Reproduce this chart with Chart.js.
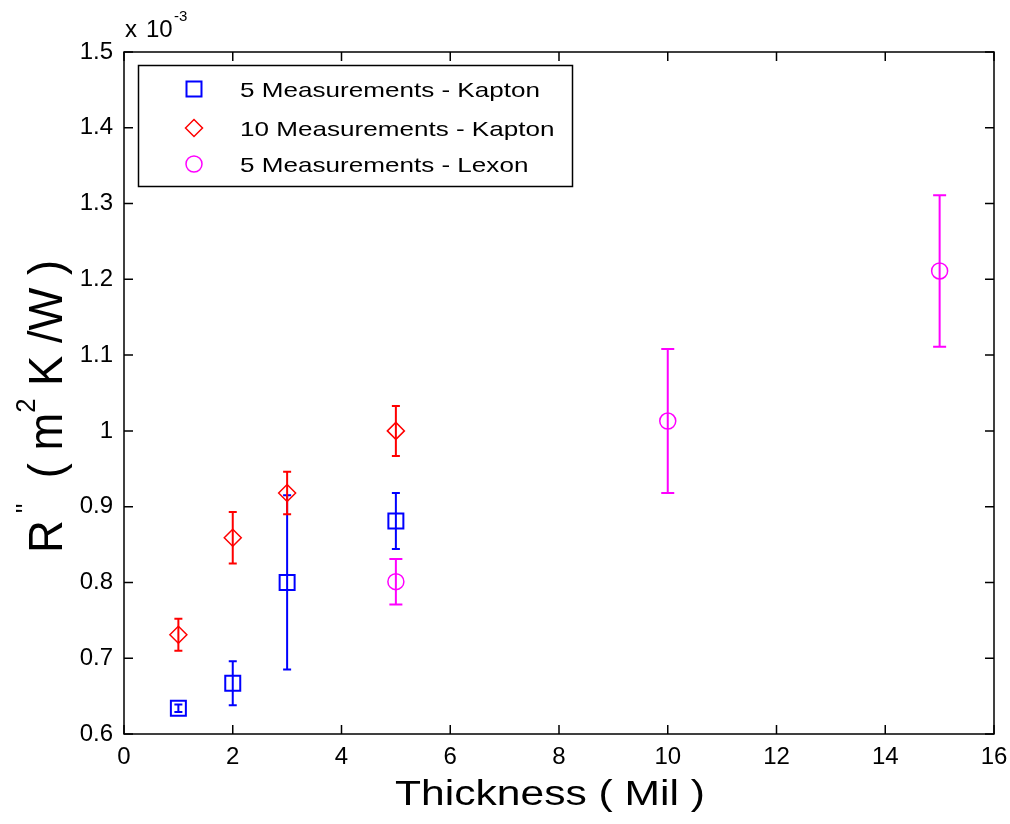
<!DOCTYPE html>
<html>
<head>
<meta charset="utf-8">
<title>Thermal resistance vs thickness</title>
<script src="https://cdn.jsdelivr.net/npm/chart.js@4.4.0/dist/chart.umd.min.js"></script>
<style>
  html, body { margin: 0; padding: 0; background: #fff; }
  canvas { display: block; }
</style>
</head>
<body>
<canvas id="resistance-chart" width="1010" height="824"></canvas>
<script>
const FONT = '"Liberation Sans", Arial, Helvetica, sans-serif';

// thickness in mil, R'' in units of 1e-3 m^2 K/W, errors are half-lengths
const kapton5X = [1, 2, 3, 5];
const kapton5Y = [0.634, 0.667, 0.800, 0.881];
const kapton5Err = [0.005, 0.029, 0.115, 0.037];

const kapton10X = [1, 2, 3, 5];
const kapton10Y = [0.731, 0.859, 0.918, 1.000];
const kapton10Err = [0.021, 0.034, 0.028, 0.033];

const lexon5X = [5, 10, 15];
const lexon5Y = [0.801, 1.013, 1.211];
const lexon5Err = [0.030, 0.095, 0.100];

const seriesNames = ['5 Measurements - Kapton', '10 Measurements - Kapton', '5 Measurements - Lexon'];
const xTickValues = [0, 2, 4, 6, 8, 10, 12, 14, 16];
const yTickValues = [0.6, 0.7, 0.8, 0.9, 1.0, 1.1, 1.2, 1.3, 1.4, 1.5];

function toPoints(xs, ys) {
  return xs.map((x, i) => ({ x: x, y: ys[i] }));
}

// vertical error bars with caps, drawn right after each dataset
const errorBars = {
  id: 'errorBars',
  afterDatasetDraw(chart, args) {
    const ds = chart.data.datasets[args.index];
    const xs = chart.scales.x, ys = chart.scales.y;
    const ctx = chart.ctx;
    const cap = ds.capHalfWidth;
    ctx.save();
    ctx.strokeStyle = ds.pointBorderColor;
    ctx.lineWidth = ds.errorLineWidth;
    ds.data.forEach((p, i) => {
      const e = ds.errors[i];
      const px = xs.getPixelForValue(p.x);
      const top = ys.getPixelForValue(p.y + e);
      const bot = ys.getPixelForValue(p.y - e);
      ctx.beginPath();
      ctx.moveTo(px, top); ctx.lineTo(px, bot);
      ctx.moveTo(px - cap, top); ctx.lineTo(px + cap, top);
      ctx.moveTo(px - cap, bot); ctx.lineTo(px + cap, bot);
      ctx.stroke();
    });
    ctx.restore();
  }
};

// closed axes box with inward ticks on all four sides
const axesBox = {
  id: 'axesBox',
  afterDatasetsDraw(chart) {
    const { ctx, chartArea: a } = chart;
    const xs = chart.scales.x, ys = chart.scales.y;
    const len = 9;
    ctx.save();
    ctx.strokeStyle = '#000';
    ctx.lineWidth = 1.5;
    ctx.strokeRect(a.left, a.top, a.right - a.left, a.bottom - a.top);
    ctx.beginPath();
    xs.ticks.forEach(t => {
      const px = xs.getPixelForValue(t.value);
      ctx.moveTo(px, a.bottom); ctx.lineTo(px, a.bottom - len);
      ctx.moveTo(px, a.top); ctx.lineTo(px, a.top + len);
    });
    ys.ticks.forEach(t => {
      const py = ys.getPixelForValue(t.value);
      ctx.moveTo(a.left, py); ctx.lineTo(a.left + len, py);
      ctx.moveTo(a.right, py); ctx.lineTo(a.right - len, py);
    });
    ctx.stroke();
    ctx.restore();
  }
};

// draws text squeezed/stretched to a given width
function fitText(ctx, text, x, y, width) {
  const w = ctx.measureText(text).width;
  ctx.save();
  ctx.translate(x, y);
  ctx.scale(width / w, 1);
  ctx.fillText(text, 0, 0);
  ctx.restore();
}

const labels = {
  id: 'labels',
  afterDraw(chart) {
    const ctx = chart.ctx;
    ctx.save();
    ctx.fillStyle = '#000';
    ctx.textBaseline = 'alphabetic';
    ctx.textAlign = 'left';

    // x axis title
    ctx.font = '35px ' + FONT;
    fitText(ctx, 'Thickness ( Mil )', 395, 805, 310);

    // y axis title, rotated, with superscripts
    const parts = [
      { t: 'R', sup: false },
      { t: " ''", sup: true },
      { t: '  ( m', sup: false },
      { t: '2', sup: true },
      { t: ' K /W )', sup: false }
    ];
    const mainFont = '48px ' + FONT, supFont = '27px ' + FONT;
    let total = 0;
    parts.forEach(p => {
      ctx.font = p.sup ? supFont : mainFont;
      p.w = ctx.measureText(p.t).width;
      total += p.w;
    });
    ctx.save();
    ctx.translate(62, 553);
    ctx.rotate(-Math.PI / 2);
    ctx.scale(293 / total, 1);
    let cx = 0;
    parts.forEach(p => {
      ctx.font = p.sup ? supFont : mainFont;
      ctx.fillText(p.t, cx, p.sup ? -27 : 0);
      cx += p.w;
    });
    ctx.restore();

    // exponent label above the y axis
    ctx.font = '24px ' + FONT;
    ctx.fillText('x', 125, 37);
    ctx.fillText('10', 146, 37);
    ctx.font = '15px ' + FONT;
    ctx.fillText('-3', 174, 21);

    // legend
    const lx = 138, ly = 65, lw = 434, lh = 121;
    ctx.fillStyle = '#fff';
    ctx.fillRect(lx, ly, lw, lh);
    ctx.strokeStyle = '#000';
    ctx.lineWidth = 1.5;
    ctx.strokeRect(lx + 0.5, ly + 0.5, lw, lh);
    const rows = [89, 128, 164];
    ctx.font = '21px ' + FONT;
    const k = 300 / ctx.measureText(seriesNames[0]).width;
    chart.data.datasets.forEach((ds, i) => {
      ctx.save();
      ctx.strokeStyle = ds.pointBorderColor;
      ctx.fillStyle = 'rgba(0,0,0,0)';
      ctx.lineWidth = ds.pointBorderWidth;
      Chart.helpers.drawPoint(ctx, {
        pointStyle: ds.pointStyle,
        radius: ds.pointRadius,
        rotation: 0,
        borderWidth: ds.pointBorderWidth
      }, 194, rows[i]);
      ctx.restore();
      ctx.fillStyle = '#000';
      const w = ctx.measureText(ds.label).width;
      fitText(ctx, ds.label, 240, rows[i] + 8, w * k);
    });
    ctx.restore();
  }
};

new Chart(document.getElementById('resistance-chart'), {
  type: 'scatter',
  data: {
    datasets: [
      {
        label: seriesNames[0],
        data: toPoints(kapton5X, kapton5Y),
        errors: kapton5Err,
        pointStyle: 'rect',
        pointRadius: 10.6,
        pointBorderWidth: 2,
        pointBorderColor: '#0000ff',
        pointBackgroundColor: 'rgba(0,0,0,0)',
        errorLineWidth: 2,
        capHalfWidth: 4,
        order: 3
      },
      {
        label: seriesNames[1],
        data: toPoints(kapton10X, kapton10Y),
        errors: kapton10Err,
        pointStyle: 'rectRot',
        pointRadius: 8.5,
        pointBorderWidth: 1.5,
        pointBorderColor: '#ff0000',
        pointBackgroundColor: 'rgba(0,0,0,0)',
        errorLineWidth: 2,
        capHalfWidth: 4,
        order: 2
      },
      {
        label: seriesNames[2],
        data: toPoints(lexon5X, lexon5Y),
        errors: lexon5Err,
        pointStyle: 'circle',
        pointRadius: 8,
        pointBorderWidth: 1.5,
        pointBorderColor: '#ff00ff',
        pointBackgroundColor: 'rgba(0,0,0,0)',
        errorLineWidth: 2,
        capHalfWidth: 6.5,
        order: 1
      }
    ]
  },
  options: {
    responsive: false,
    animation: false,
    events: [],
    layout: { padding: { left: 0, top: 52, right: 16, bottom: 0 } },
    plugins: {
      legend: { display: false },
      tooltip: { enabled: false }
    },
    scales: {
      x: {
        type: 'linear',
        min: 0,
        max: 16,
        afterBuildTicks: s => { s.ticks = xTickValues.map(v => ({ value: v })); },
        afterFit: s => {
          s.height = 90;
          s.paddingLeft = 0;
          s.paddingRight = 0;
        },
        grid: { display: false, drawTicks: false },
        border: { display: false },
        ticks: {
          padding: 9,
          color: '#000',
          font: { family: FONT, size: 24 },
          maxRotation: 0
        }
      },
      y: {
        type: 'linear',
        min: 0.6,
        max: 1.5,
        afterBuildTicks: s => { s.ticks = yTickValues.map(v => ({ value: v })); },
        afterFit: s => {
          s.width = 124;
          s.paddingTop = 0;
          s.paddingBottom = 0;
        },
        grid: { display: false, drawTicks: false },
        border: { display: false },
        ticks: {
          padding: 11,
          color: '#000',
          font: { family: FONT, size: 24 },
          callback: v => String(parseFloat(v.toFixed(1)))
        }
      }
    }
  },
  plugins: [errorBars, axesBox, labels]
});
</script>
</body>
</html>
